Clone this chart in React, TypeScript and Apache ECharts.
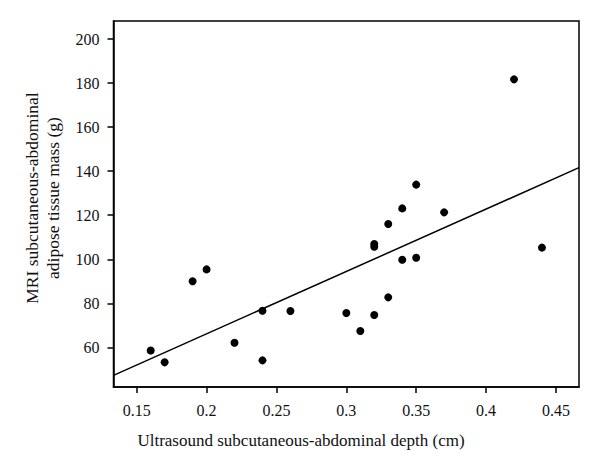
import React, { useEffect, useRef } from "react";
import * as echarts from "echarts";

const xTicks = [0.15, 0.2, 0.25, 0.3, 0.35, 0.4, 0.45];
const yTicks = [60, 80, 100, 120, 140, 160, 180, 200];

const depthCm = [
  0.16, 0.17, 0.19, 0.2, 0.22, 0.24, 0.24, 0.26, 0.3, 0.31, 0.32, 0.32, 0.32,
  0.33, 0.33, 0.34, 0.34, 0.35, 0.35, 0.37, 0.42, 0.44,
];
const massG = [
  58.6, 53.2, 90.0, 95.4, 62.1, 76.6, 54.1, 76.5, 75.6, 67.4, 106.9, 105.7, 74.7,
  116.0, 82.7, 123.1, 99.8, 133.9, 100.7, 121.3, 181.7, 105.3,
];

const fitX = [0.1334, 0.4665];
const fitY = [47.3, 141.6];

const xRange = [0.1334, 0.4665];
const yRange = [42, 208.2];

const xTitle = "Ultrasound subcutaneous-abdominal depth (cm)";
const yTitle = "MRI subcutaneous-abdominal\nadipose tissue mass (g)";

const FONT = "'Liberation Serif', 'DejaVu Serif', serif";

export default function App() {
  const ref = useRef<HTMLDivElement>(null);
  useEffect(() => {
    document.body.style.margin = "0";
    const chart = echarts.init(ref.current!, null, { renderer: "svg" });
    const axisCommon = {
      splitLine: { show: false },
      axisLine: { show: true, lineStyle: { color: "#000", width: 1.5 } },
      axisTick: { show: true, length: 6, inside: false, lineStyle: { color: "#000", width: 1.5 } },
    };
    chart.setOption({
      animation: false,
      backgroundColor: "#fff",
      grid: {
        left: 113.5,
        right: 21,
        top: 21,
        bottom: 86,
        show: true,
        borderColor: "#000",
        borderWidth: 1.5,
        backgroundColor: "transparent",
      },
      xAxis: {
        type: "value",
        min: xRange[0],
        max: xRange[1],
        ...axisCommon,
        axisTick: { ...axisCommon.axisTick, customValues: xTicks },
        axisLabel: {
          customValues: xTicks,
          margin: 15,
          fontFamily: FONT,
          fontSize: 16,
          color: "#111",
          formatter: (v: number) => String(Number(v.toFixed(2))),
        },
      },
      yAxis: {
        type: "value",
        min: yRange[0],
        max: yRange[1],
        ...axisCommon,
        axisTick: { ...axisCommon.axisTick, customValues: yTicks },
        axisLabel: {
          customValues: yTicks,
          margin: 14,
          fontFamily: FONT,
          fontSize: 16,
          color: "#111",
        },
      },
      graphic: [
        {
          type: "text",
          x: 301,
          y: 440,
          style: {
            text: xTitle,
            fontFamily: FONT,
            fontSize: 17,
            fill: "#111",
            textAlign: "center",
            textVerticalAlign: "middle",
          },
        },
        {
          type: "text",
          x: 42,
          y: 198,
          rotation: Math.PI / 2,
          style: {
            text: yTitle,
            fontFamily: FONT,
            fontSize: 17.5,
            lineHeight: 21,
            fill: "#111",
            textAlign: "center",
            textVerticalAlign: "middle",
          },
        },
      ],
      series: [
        {
          type: "line",
          data: fitX.map((x, i) => [x, fitY[i]]),
          symbol: "none",
          lineStyle: { color: "#000", width: 1.5 },
          silent: true,
        },
        {
          type: "scatter",
          data: depthCm.map((x, i) => [x, massG[i]]),
          symbolSize: 8,
          itemStyle: { color: "#000", opacity: 1 },
        },
      ],
    });
    return () => chart.dispose();
  }, []);
  return <div ref={ref} style={{ width: 600, height: 473 }} />;
}
